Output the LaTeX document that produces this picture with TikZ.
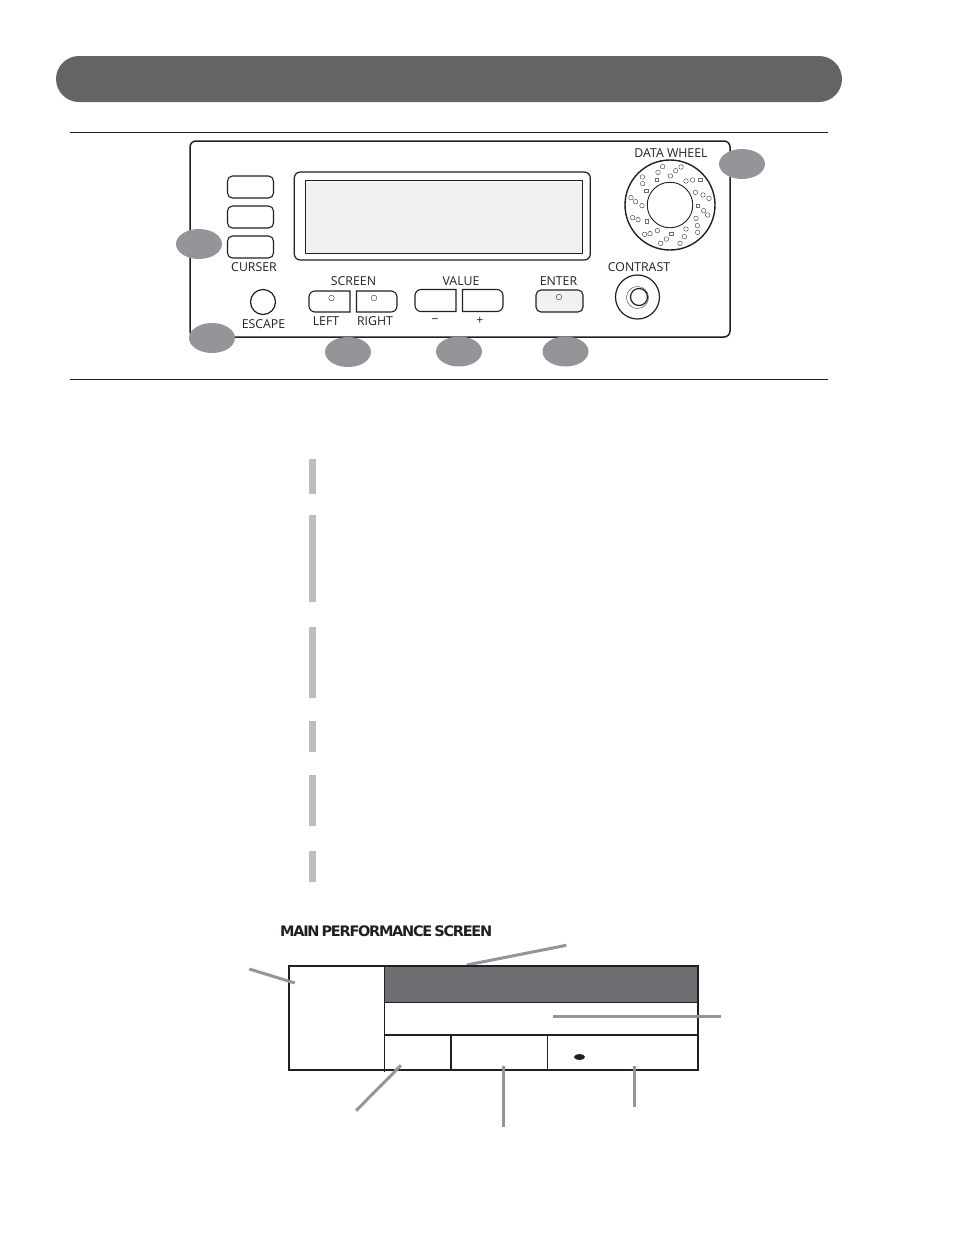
\documentclass[tikz,border=0pt]{standalone}
\usepackage{fontspec}
\setmainfont{Open Sans}
\newfontfamily\titlefont[LetterSpace=-8.8,WordSpace=0.55]{DejaVu Sans Bold}
\usetikzlibrary{shapes.geometric}
\definecolor{pill}{HTML}{636466}
\definecolor{badgegray}{HTML}{939598}
\definecolor{bargray}{HTML}{BBBDC1}
\definecolor{lcd}{HTML}{F1F1F2}
\definecolor{headgray}{HTML}{6D6E71}
\definecolor{ink}{HTML}{231F20}
\tikzset{
  badge/.style={ellipse,fill=badgegray,draw=none,minimum width=46pt,minimum height=30pt,inner sep=0pt},
  btn/.style={draw=ink,line width=1.1pt,rounded corners=5pt,minimum width=46pt,minimum height=22pt,inner sep=0pt},
  lbl/.style={text=ink,font=\fontsize{12.3}{13}\selectfont,inner sep=0pt},
  led/.style={circle,draw=ink,line width=0.35pt,minimum size=5.6pt,inner sep=0pt},
  hole/.style={circle,draw=ink,line width=0.35pt,minimum size=4.6pt,inner sep=0pt},
  sqhole/.style={rectangle,draw=ink!65,line width=0.3pt,minimum size=3.4pt,inner sep=0pt},
  bar/.style={rectangle,fill=bargray,draw=none,minimum width=7pt,inner sep=0pt},
  leader/.style={draw=badgegray,line width=3pt},
  rulex/.style={draw=ink,line width=1pt},
  frame/.style={draw=ink,line width=1.3pt}
}
\begin{document}
\begin{tikzpicture}[x=1pt,y=-1pt]
\useasboundingbox (0,0) rectangle (954,1235);
% header
\node[rectangle,rounded corners=23pt,fill=pill,minimum width=786pt,minimum height=46pt,inner sep=0pt] (header) at (449,79) {};
% rules
\coordinate (r1a) at (70,132); \coordinate (r1b) at (828,132);
\coordinate (r2a) at (70,379.5); \coordinate (r2b) at (828,379.5);
\draw[rulex] (r1a) -- (r1b);
\draw[rulex] (r2a) -- (r2b);
% panel
\node[draw=ink,line width=1.5pt,rounded corners=6pt,minimum width=540pt,minimum height=196pt,inner sep=0pt] (panel) at (460,239) {};
% display
\node[draw=ink,line width=1.2pt,rounded corners=6pt,minimum width=296pt,minimum height=88pt,inner sep=0pt] (display) at (442.3,216) {};
\node[draw=ink,fill=lcd,line width=0.9pt,minimum width=277pt,minimum height=73pt,inner sep=0pt] (lcdscreen) at (443.5,216.5) {};
% curser buttons
\node[btn] (c1) at (250.5,187) {};
\node[btn] (c2) at (250.5,217) {};
\node[btn] (c3) at (250.5,247) {};
\node[lbl] (curser) at (254,267) {CURSER};
% escape
\node[circle,draw=ink,line width=1.2pt,minimum size=25pt,inner sep=0pt] (escbtn) at (263,302) {};
\node[lbl] (escape) at (263.5,324) {ESCAPE};
% screen buttons
\draw[draw=ink,line width=1.1pt] (350,291) [rounded corners=6pt] -- (309,291) -- (309,312) [sharp corners] -- (350,312) -- cycle;
\draw[draw=ink,line width=1.1pt] (356.5,291) [rounded corners=6pt] -- (397,291) -- (397,312) [sharp corners] -- (356.5,312) -- cycle;
\node[led] (ledl) at (331.5,298) {};
\node[led] (ledr) at (374,298) {};
\node[lbl] (screen) at (353.5,281) {SCREEN};
\node[lbl] (left) at (326,321) {LEFT};
\node[lbl] (right) at (375,321) {RIGHT};
% value buttons
\draw[draw=ink,line width=1.1pt] (456,289.5) [rounded corners=6pt] -- (415,289.5) -- (415,311.5) [sharp corners] -- (456,311.5) -- cycle;
\draw[draw=ink,line width=1.1pt] (462.5,289.5) [rounded corners=6pt] -- (503,289.5) -- (503,311.5) [sharp corners] -- (462.5,311.5) -- cycle;
\node[lbl] (value) at (461,281) {VALUE};
\node[lbl] (minus) at (435,321) {\textminus};
\node[lbl] (plus) at (480,321) {+};
% enter
\node[btn,fill=lcd,minimum width=47pt] (enter) at (559.5,301) {};
\node[led] (lede) at (559,297) {};
\node[lbl] (enterl) at (558.5,281) {ENTER};
% data wheel
\node[lbl] (wheell) at (671,153) {DATA WHEEL};
\node[circle,draw=ink,line width=1.4pt,minimum size=90pt,inner sep=0pt] (wheel) at (670,205) {};
\node[circle,draw=ink,line width=0.9pt,minimum size=45.5pt,inner sep=0pt] (hub) at (670,205) {};
\foreach \zx/\zy in {128/35,114/52,67/66,68/86,183/36,167/47,151/63,198/78,218/75,226/112,249/120,267/130,251/167,263/180,228/190,232/212,233/232,198/222,193/245,180/265,139/252,122/265,112/227,90/236,74/238,54/194,38/188,66/152,47/140,33/128}
  \node[hole] at ({620+\zx/3},{155+\zy/3}) {};
\foreach \zx/\zy in {110/74,78/107,240/74,233/152,153/236,80/198}
  \node[sqhole] at ({620+\zx/3},{155+\zy/3}) {};
% contrast
\node[lbl] (contrastl) at (639,267) {CONTRAST};
\node[circle,draw=ink,line width=1.2pt,minimum size=44pt,inner sep=0pt] (contrast) at (637.5,297) {};
\node[circle,draw=ink,line width=0.35pt,minimum size=22pt,inner sep=0pt] (ring) at (637.5,297.5) {};
\node[circle,draw=ink,line width=1.2pt,minimum size=17pt,inner sep=0pt] (knob) at (639,297) {};
% badges
\node[badge] (b1) at (199,244) {};
\node[badge] (b2) at (212,338) {};
\node[badge] (b3) at (348,352) {};
\node[badge] (b4) at (459,351.5) {};
\node[badge] (b5) at (565.5,351.5) {};
\node[badge] (b6) at (742,164) {};
% side bars
\node[bar,minimum height=35pt] (s1) at (312.5,476.5) {};
\node[bar,minimum height=87pt] (s2) at (312.5,558.5) {};
\node[bar,minimum height=71pt] (s3) at (312.5,662.5) {};
\node[bar,minimum height=31pt] (s4) at (312.5,736.5) {};
\node[bar,minimum height=51pt] (s5) at (312.5,800.5) {};
\node[bar,minimum height=31pt] (s6) at (312.5,866.5) {};
% title
\node[anchor=west,inner sep=0pt,text=ink,font=\titlefont\fontsize{14.5}{15}\selectfont] (title) at (280,931) {MAIN PERFORMANCE SCREEN};
% performance screen
\node[rectangle,fill=headgray,minimum width=313.5pt,minimum height=36pt,inner sep=0pt] (head) at (541.25,984) {};
\coordinate (sTL) at (289,966); \coordinate (sBR) at (698,1070);
\draw[leader] (466.7,965) coordinate (l1a) -- (566.3,945.3) coordinate (l1b);
\draw[frame,line width=1.6pt] (sTL) rectangle (sBR);
\draw[ink,line width=1pt] (384.5,966) -- (384.5,1072);
\draw[ink,line width=0.8pt] (384.5,1002.5) -- (698,1002.5);
\draw[ink,line width=1.5pt] (384.5,1035) -- (698,1035);
\draw[ink,line width=1.3pt] (451,1035) -- (451,1070);
\draw[ink,line width=0.9pt] (547.5,1035) -- (547.5,1070);
\node[ellipse,fill=ink,minimum width=11pt,minimum height=6pt,inner sep=0pt] (dot) at (579.5,1057) {};
% leaders
\coordinate (l2a) at (249.3,969); \coordinate (l2b) at (294.7,983);
\coordinate (l3a) at (553.3,1016.7); \coordinate (l3b) at (721,1016.7);
\coordinate (l4a) at (401,1065.3); \coordinate (l4b) at (356,1110.7);
\coordinate (l5a) at (503.3,1066); \coordinate (l5b) at (503.3,1127.3);
\coordinate (l6a) at (634.7,1066); \coordinate (l6b) at (634.7,1107);
\draw[leader] (l2a) -- (l2b);
\draw[leader] (l3a) -- (l3b);
\draw[leader] (l4a) -- (l4b);
\draw[leader] (l5a) -- (l5b);
\draw[leader] (l6a) -- (l6b);
\end{tikzpicture}
\end{document}
